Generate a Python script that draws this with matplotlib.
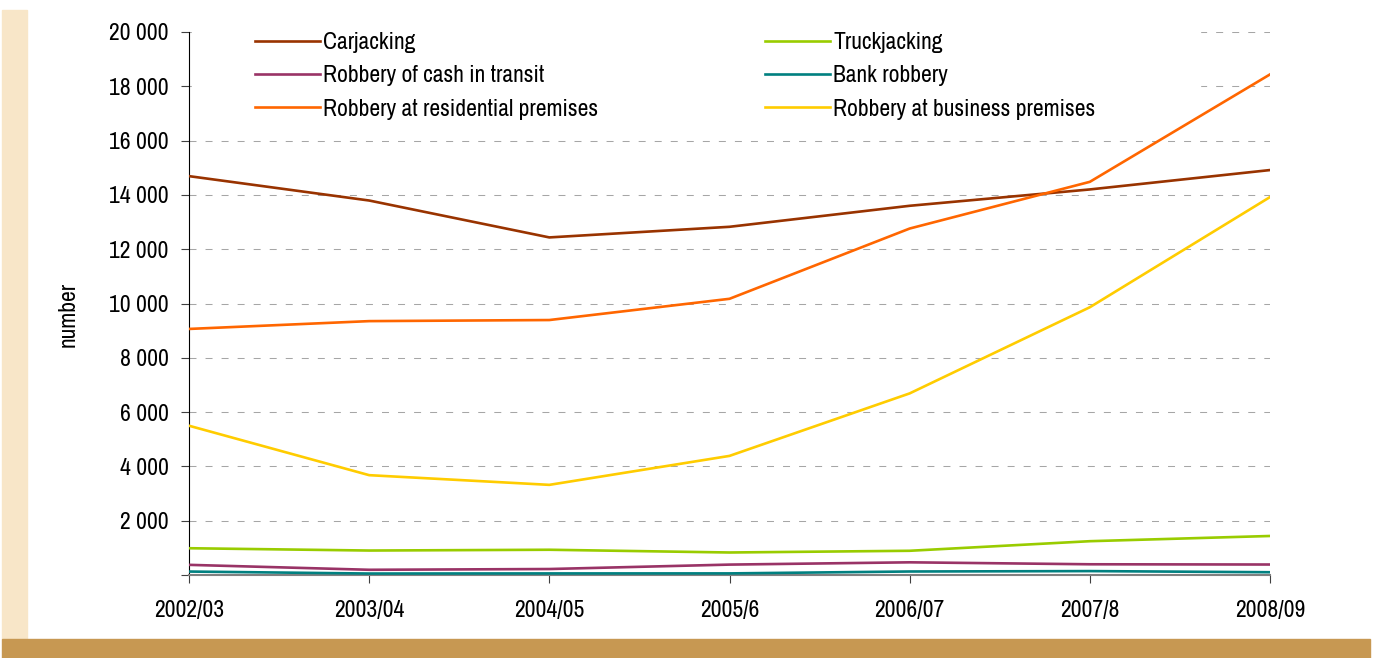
import matplotlib
matplotlib.use("Agg")
import matplotlib.pyplot as plt
from matplotlib import font_manager
from matplotlib.patches import Rectangle
from matplotlib.ticker import FuncFormatter
from matplotlib.textpath import TextPath
from matplotlib.font_manager import FontProperties

# ---- data ----
years = ["2002/03", "2003/04", "2004/05", "2005/6", "2006/07", "2007/8", "2008/09"]
carjacking = [14691, 13793, 12434, 12825, 13599, 14201, 14915]
truckjacking = [986, 901, 930, 829, 892, 1245, 1437]
cash_in_transit = [374, 192, 220, 383, 467, 395, 386]
bank_robbery = [127, 54, 58, 59, 129, 144, 102]
residential = [9063, 9351, 9391, 10173, 12761, 14481, 18438]
business = [5498, 3677, 3320, 4387, 6689, 9862, 13920]
yticks = [0, 2000, 4000, 6000, 8000, 10000, 12000, 14000, 16000, 18000, 20000]

# font: a narrow sans if one is available
fam = "Liberation Sans"
for cand in ["Arial Narrow", "Liberation Sans Narrow", "Archivo Narrow",
             "PT Sans Narrow", "Roboto Condensed", "Arimo"]:
    try:
        font_manager.findfont(FontProperties(family=cand), fallback_to_default=False)
        fam = cand
        break
    except Exception:
        pass
plt.rcParams["font.family"] = [fam, "DejaVu Sans"]

# size so that "2002/03" is about 70 px wide
tp = TextPath((0, 0), "2002/03", size=10, prop=FontProperties(family=fam))
w10 = tp.get_extents().width
FS = 10 * (70 * 72 / 100) / w10
FS = min(FS, 17.0)

W, H = 1373, 658
fig = plt.figure(figsize=(W / 100, H / 100), dpi=100)
fig.patch.set_facecolor("white")

# decorative bars
fig.patches.append(Rectangle((2 / W, (H - 639) / H), 25 / W, 629 / H,
                             transform=fig.transFigure, color="#F8E6C8", zorder=0))
fig.patches.append(Rectangle((2 / W, 0), (1370 - 2) / W, (658 - 639) / H,
                             transform=fig.transFigure, color="#C79852", zorder=0))

x0, x1 = 189, 1270
ytop, ybot = 32, 575
ax = fig.add_axes([x0 / W, (H - ybot) / H, (x1 - x0) / W, (ybot - ytop) / H])
ax.set_facecolor("none")

xs = list(range(len(years)))
series = [
    ("Carjacking", carjacking, "#993300"),
    ("Truckjacking", truckjacking, "#99CC00"),
    ("Robbery of cash in transit", cash_in_transit, "#993366"),
    ("Bank robbery", bank_robbery, "#008080"),
    ("Robbery at residential premises", residential, "#FF6600"),
    ("Robbery at business premises", business, "#FFCC00"),
]
lines = {}
for name, vals, col in series:
    lines[name], = ax.plot(xs, vals, color=col, lw=1.9, label=name, zorder=3)

ax.set_xlim(0, 6)
ax.set_ylim(0, 20000)
ax.set_xticks(xs)
ax.set_xticklabels(years, fontsize=FS)
ax.set_yticks(yticks)
ax.yaxis.set_major_formatter(FuncFormatter(
    lambda v, p: "" if v == 0 else f"{int(v):,}".replace(",", " ")))
ax.tick_params(axis="y", labelsize=FS, length=6, width=0.8, color="#404040",
               direction="out", pad=8.5)
ax.tick_params(axis="x", labelsize=FS, length=6, width=0.8, color="#404040",
               direction="out", pad=12)

for s in ["top", "right"]:
    ax.spines[s].set_visible(False)
ax.spines["left"].set_color("#000000")
ax.spines["left"].set_linewidth(0.8)
ax.spines["bottom"].set_color("#808080")
ax.spines["bottom"].set_linewidth(1.5)

for v in yticks[1:]:
    ax.axhline(v, color="#A6A6A6", lw=0.75, ls=(0, (6.7, 8.7)), zorder=0.5)

# white area behind the legend
ax.add_patch(Rectangle((0.003, (575 - 125) / 543), (1200 - 189) / 1081 - 0.003, 0.2,
                       transform=ax.transAxes, color="white", zorder=1, clip_on=False))

ax.set_ylabel("number", fontsize=FS)
ax.yaxis.set_label_coords((79 - 189) / 1081, 0.48)

order = ["Carjacking", "Robbery of cash in transit", "Robbery at residential premises",
         "Truckjacking", "Bank robbery", "Robbery at business premises"]
legkw = dict(ncol=2, loc="upper left", frameon=False,
             bbox_to_anchor=((255 - 189) / 1081, (575 - 32) / 543),
             borderaxespad=0, borderpad=0, handlelength=2.75, handletextpad=0.15,
             labelspacing=0.52, fontsize=FS)
leg = ax.legend([lines[n] for n in order], order, columnspacing=7.0, **legkw)

# put the second column at x = 765 px
fig.canvas.draw()
r = fig.canvas.get_renderer()
texts = leg.get_texts()
col1_right = max(t.get_window_extent(r).x1 for t in texts[:3])
gap_px = 765 - col1_right
cs = gap_px / (FS * 100 / 72)
leg.remove()
leg = ax.legend([lines[n] for n in order], order, columnspacing=max(cs, 1.0), **legkw)

fig.savefig("out.png", dpi=100)
